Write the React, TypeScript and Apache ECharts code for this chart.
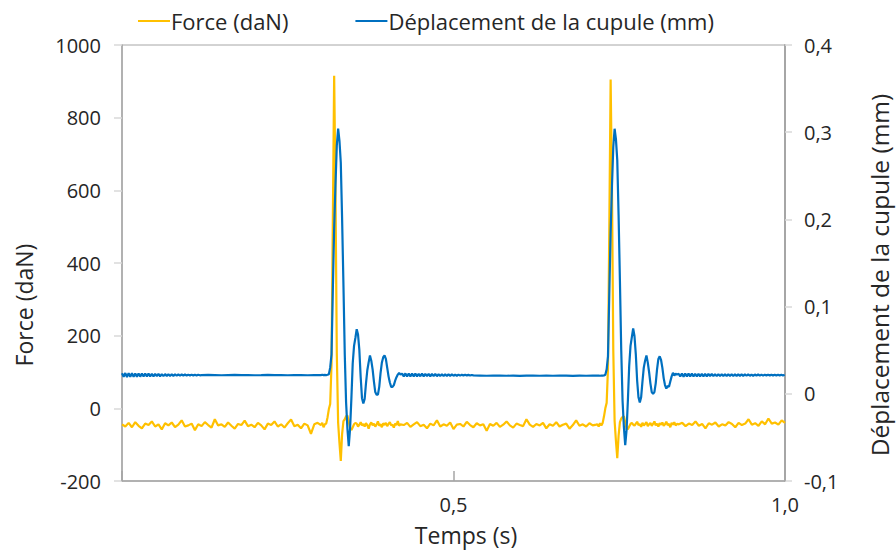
import React, { useEffect, useRef } from "react";
import * as echarts from "echarts";

// ---- Force (daN), left axis ----
// baseline before 1st impact: t = 0 .. 0.295 s, every 0.005 s
const forceBefore1 = [
  -44, -50, -40, -52, -38, -48, -55, -42, -46, -36,
  -50, -44, -58, -41, -47, -39, -52, -45, -33, -50,
  -47, -42, -60, -44, -49, -38, -46, -53, -30, -47,
  -44, -51, -39, -48, -56, -43, -46, -34, -49, -45,
  -52, -40, -47, -58, -42, -46, -36, -50, -44, -53,
  -41, -31, -49, -45, -55, -42, -47, -70, -44, -40,
];
// 1st impact: t = 0.300 .. 0.420 s, every 0.002 s
const forceEvent1 = [
  -46, -40, -52, -44, -42, -25, -2, 12, 120, 520,
  915, 600, 150, -40, -95, -145, -70, -35, -30, -22,
  -20, -36, -55, -60, -52, -44, -40, -42, -50, -45,
  -38, -47, -43, -50, -41, -46, -56, -44, -39, -47,
  -42, -50, -45, -36, -48, -44, -52, -41, -46, -40,
  -49, -43, -38, -47, -45, -53, -42, -46, -35, -48,
  -44,
];
// between impacts: t = 0.425 .. 0.715 s, every 0.005 s
const forceBetween = [
  -46, -40, -51, -44, -38, -49, -45, -55, -42, -47,
  -33, -50, -44, -48, -39, -57, -45, -43, -50, -37,
  -46, -52, -41, -47, -44, -62, -43, -48, -40, -51,
  -45, -36, -47, -53, -42, -46, -49, -30, -45, -51,
  -43, -47, -40, -55, -44, -48, -38, -50, -45, -42,
  -56, -46, -33, -48, -44, -50, -41, -47, -45,
];
// 2nd impact: t = 0.717 .. 0.837 s, every 0.002 s
const forceEvent2 = [
  -44, -50, -41, -47, -40, -22, 0, 15, 110, 500,
  905, 610, 160, -35, -90, -137, -75, -38, -28, -24,
  -22, -38, -54, -58, -50, -43, -40, -45, -48, -42,
  -37, -46, -44, -51, -40, -47, -43, -38, -49, -44,
  -40, -48, -43, -36, -47, -42, -50, -41, -45, -39,
  -48, -44, -37, -46, -43, -52, -40, -45, -38, -47,
  -43,
];
// after 2nd impact: t = 0.840 .. 1.000 s, every 0.005 s
const forceAfter2 = [
  -44, -40, -49, -42, -46, -36, -48, -43, -55, -41,
  -45, -39, -50, -44, -47, -38, -43, -52, -40, -46,
  -42, -30, -45, -41, -48, -36, -44, -28, -42, -39,
  -45, -33, -40,
];

// ---- Déplacement de la cupule (mm), right axis ----
// ripple at start: t = 0 .. 0.1175 s, every 0.0025 s
const dispStart = [
  0.0236, 0.0194, 0.0238, 0.0192, 0.0237, 0.0195, 0.0236, 0.0194, 0.0234, 0.0196,
  0.0234, 0.0197, 0.0232, 0.0198, 0.0233, 0.0199, 0.0231, 0.0199, 0.0229, 0.02,
  0.0229, 0.0202, 0.0228, 0.0201, 0.0226, 0.0203, 0.0226, 0.0204, 0.0225, 0.0205,
  0.0224, 0.0206, 0.0224, 0.0207, 0.0222, 0.0207, 0.0222, 0.0208, 0.0221, 0.0209,
  0.022, 0.021, 0.022, 0.021, 0.0219, 0.0211, 0.0218, 0.0212,
];
// flat: t = 0.12 .. 0.29 s, every 0.01 s
const dispFlat1 = [
  0.0214, 0.0216, 0.0215, 0.0213, 0.0215, 0.0216, 0.0214, 0.0215, 0.0213, 0.0214,
  0.0216, 0.0215, 0.0214, 0.0213, 0.0215, 0.0214, 0.0213, 0.0214,
];
// 1st impact: t = 0.300 .. 0.420 s, every 0.002 s
const dispEvent1 = [
  0.0215, 0.0218, 0.0214, 0.0216, 0.0215, 0.0218, 0.0225, 0.03, 0.045, 0.12,
  0.19, 0.24, 0.285, 0.304, 0.29, 0.265, 0.2, 0.125, 0.045, -0.01,
  -0.04, -0.06, -0.04, -0.005, 0.035, 0.055, 0.064, 0.074, 0.068, 0.05,
  0.019, -0.005, -0.011, -0.006, 0.012, 0.027, 0.036, 0.044, 0.038, 0.028,
  0.014, 0.002, -0.001, -0.001, 0.008, 0.024, 0.036, 0.042, 0.044, 0.04,
  0.03, 0.02, 0.013, 0.008, 0.008, 0.01, 0.015, 0.019, 0.022, 0.024,
  0.022,
];
// ripple after 1st impact: t = 0.4225 .. 0.53 s, every 0.0025 s
const dispRipple1 = [
  0.0232, 0.02, 0.0234, 0.0198, 0.0233, 0.0199, 0.0232, 0.02, 0.0231, 0.0199,
  0.023, 0.0201, 0.0231, 0.02, 0.0229, 0.0202, 0.0228, 0.0201, 0.0227, 0.0203,
  0.0227, 0.0202, 0.0225, 0.0204, 0.0224, 0.0204, 0.0223, 0.0205, 0.0222, 0.0206,
  0.0222, 0.0207, 0.0221, 0.0207, 0.022, 0.0208, 0.0219, 0.0209, 0.0218, 0.0209,
  0.0217, 0.021, 0.0216, 0.0211,
];
// flat: t = 0.54 .. 0.71 s, every 0.01 s
const dispFlat2 = [
  0.0209, 0.0207, 0.0208, 0.0209, 0.0207, 0.0208, 0.0206, 0.0208, 0.0209, 0.0207,
  0.0208, 0.0207, 0.0209, 0.0208, 0.0206, 0.0208, 0.0207, 0.0208,
];
// 2nd impact: t = 0.717 .. 0.837 s, every 0.002 s
const dispEvent2 = [
  0.0208, 0.0209, 0.0207, 0.0208, 0.0208, 0.021, 0.0218, 0.028, 0.043, 0.115,
  0.185, 0.238, 0.283, 0.304, 0.292, 0.268, 0.205, 0.13, 0.05, -0.008,
  -0.038, -0.059, -0.042, -0.008, 0.032, 0.055, 0.065, 0.075, 0.066, 0.045,
  0.015, -0.004, -0.01, -0.004, 0.014, 0.03, 0.038, 0.044, 0.036, 0.025,
  0.012, 0.002, 0.0, 0.002, 0.012, 0.028, 0.04, 0.043, 0.039, 0.03,
  0.018, 0.01, 0.006, 0.009, 0.008, 0.014, 0.02, 0.024, 0.021, 0.023,
  0.022,
];
// ripple after 2nd impact: t = 0.8395 .. 0.9995 s, every 0.0025 s
const dispRipple2 = [
  0.023, 0.0198, 0.0233, 0.0197, 0.0232, 0.0198, 0.0231, 0.0199, 0.0231, 0.0198,
  0.023, 0.02, 0.0229, 0.02, 0.0229, 0.0201, 0.0228, 0.0201, 0.0227, 0.0202,
  0.0227, 0.0202, 0.0226, 0.0203, 0.0226, 0.0203, 0.0225, 0.0204, 0.0225, 0.0204,
  0.0224, 0.0205, 0.0224, 0.0205, 0.0223, 0.0206, 0.0223, 0.0206, 0.0222, 0.0206,
  0.0222, 0.0207, 0.0222, 0.0207, 0.0221, 0.0207, 0.0221, 0.0208, 0.0221, 0.0208,
  0.022, 0.0208, 0.022, 0.0209, 0.022, 0.0209, 0.0219, 0.0209, 0.0219, 0.021,
  0.0219, 0.021, 0.0218, 0.021, 0.0218,
];

const seriesNames = ["Force (daN)", "Déplacement de la cupule (mm)"];
const xTitle = "Temps (s)";

type Seg = { start: number; step: number; values: number[] };
const forceSegments: Seg[] = [
  { start: 0, step: 0.005, values: forceBefore1 },
  { start: 0.3, step: 0.002, values: forceEvent1 },
  { start: 0.425, step: 0.005, values: forceBetween },
  { start: 0.717, step: 0.002, values: forceEvent2 },
  { start: 0.84, step: 0.005, values: forceAfter2 },
];
const dispSegments: Seg[] = [
  { start: 0, step: 0.0025, values: dispStart },
  { start: 0.12, step: 0.01, values: dispFlat1 },
  { start: 0.3, step: 0.002, values: dispEvent1 },
  { start: 0.4225, step: 0.0025, values: dispRipple1 },
  { start: 0.54, step: 0.01, values: dispFlat2 },
  { start: 0.717, step: 0.002, values: dispEvent2 },
  { start: 0.8395, step: 0.0025, values: dispRipple2 },
];
const toPairs = (segs: Seg[]) =>
  segs.flatMap((s) =>
    s.values.map((v, i) => [Math.round((s.start + i * s.step) * 10000) / 10000, v])
  );

const FONT = "'Open Sans', 'DejaVu Sans', sans-serif";
const TXT = "#262626";
const AXIS = "#a6a6a6";
const TICK = "#d9d9d9";
const comma = (v: number) => (Math.abs(v) < 1e-9 ? "0" : v.toFixed(1).replace(".", ","));

export default function App() {
  const ref = useRef<HTMLDivElement>(null);
  useEffect(() => {
    const chart = echarts.init(ref.current!, null, { renderer: "svg" });
    chart.setOption({
      animation: false,
      backgroundColor: "#ffffff",
      legend: {
        data: seriesNames,
        icon: "rect",
        left: 133,
        top: 5,
        itemWidth: 32,
        itemHeight: 2,
        itemGap: 67,
        textStyle: {
          fontSize: 22,
          fontFamily: FONT,
          color: TXT,
          padding: [0, 0, 0, -4],
        },
      },
      grid: {
        left: 122,
        right: 111,
        top: 45,
        bottom: 71,
        show: true,
        borderColor: AXIS,
        borderWidth: 1,
        containLabel: false,
      },
      xAxis: {
        type: "value",
        min: 0,
        max: 1,
        interval: 0.5,
        axisLine: { onZero: false, lineStyle: { color: AXIS, width: 1.5 } },
        axisTick: { inside: true, length: 10, lineStyle: { color: AXIS, width: 1.5 } },
        axisLabel: {
          formatter: (v: number) => (Math.abs(v) < 1e-9 ? "" : v.toFixed(1).replace(".", ",")),
          fontSize: 20,
          fontFamily: FONT,
          color: TXT,
          margin: 13,
        },
        splitLine: { show: false },
      },
      yAxis: [
        {
          type: "value",
          position: "left",
          min: -200,
          max: 1000,
          interval: 200,
          axisLine: { show: true, onZero: false, lineStyle: { color: AXIS, width: 1.5 } },
          axisTick: { show: true, length: 8, lineStyle: { color: TICK, width: 1.5 } },
          axisLabel: {
            fontSize: 20,
            fontFamily: FONT,
            color: TXT,
            margin: 21,
            formatter: (v: number) => String(Math.round(v)),
          },
          splitLine: { show: false },
        },
        {
          type: "value",
          position: "right",
          min: -0.1,
          max: 0.4,
          interval: 0.1,
          axisLine: { show: true, onZero: false, lineStyle: { color: AXIS, width: 2 } },
          axisTick: { show: true, length: 7, lineStyle: { color: TICK, width: 1.5 } },
          axisLabel: { fontSize: 20, fontFamily: FONT, color: TXT, margin: 19, formatter: comma },
          splitLine: { show: false },
        },
      ],
      graphic: [
        {
          type: "text",
          x: 466,
          y: 535,
          style: {
            text: xTitle,
            font: `23px ${FONT}`,
            fill: TXT,
            align: "center",
            verticalAlign: "middle",
            textAlign: "center",
            textVerticalAlign: "middle",
          },
        },
        {
          type: "text",
          x: 24,
          y: 305,
          rotation: Math.PI / 2,
          style: {
            text: seriesNames[0],
            font: `23px ${FONT}`,
            fill: TXT,
            align: "center",
            verticalAlign: "middle",
            textAlign: "center",
            textVerticalAlign: "middle",
          },
        },
        {
          type: "text",
          x: 879,
          y: 275,
          rotation: Math.PI / 2,
          style: {
            text: seriesNames[1],
            font: `24.5px ${FONT}`,
            fill: TXT,
            align: "center",
            verticalAlign: "middle",
            textAlign: "center",
            textVerticalAlign: "middle",
          },
        },
      ],
      series: [
        {
          name: seriesNames[0],
          type: "line",
          yAxisIndex: 0,
          data: toPairs(forceSegments),
          symbol: "none",
          lineStyle: { color: "#FFC000", width: 2.2 },
          itemStyle: { color: "#FFC000" },
        },
        {
          name: seriesNames[1],
          type: "line",
          yAxisIndex: 1,
          data: toPairs(dispSegments),
          symbol: "none",
          lineStyle: { color: "#0070C0", width: 2.2 },
          itemStyle: { color: "#0070C0" },
        },
      ],
    });
    return () => chart.dispose();
  }, []);
  return (
    <div
      ref={ref}
      style={{ position: "absolute", left: 0, top: 0, width: 896, height: 552 }}
    />
  );
}
